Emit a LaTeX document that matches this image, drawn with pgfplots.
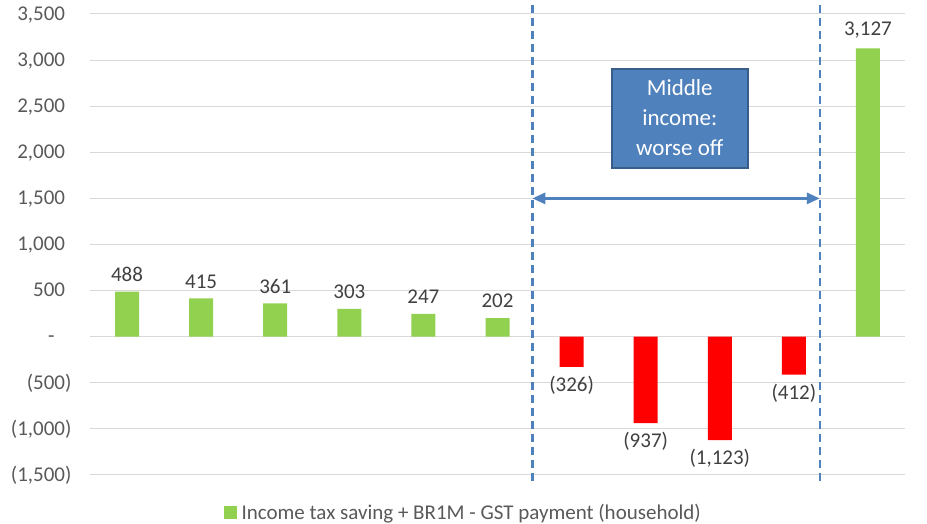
\documentclass[border=0pt]{standalone}
\usepackage{pgfplots}
\pgfplotsset{compat=1.18}
\usepackage{pgfplotstable}
\usepackage{fontspec}
\setmainfont{Carlito}
\usetikzlibrary{arrows.meta}
\definecolor{barGreen}{HTML}{92D050}
\definecolor{barRed}{HTML}{FF0000}
\definecolor{boxBlue}{HTML}{4F81BD}
\definecolor{boxEdge}{HTML}{385D8A}
\definecolor{tickGray}{HTML}{595959}
\definecolor{labGray}{HTML}{404040}
\definecolor{gridGray}{HTML}{D9D9D9}

\pgfplotstableread{
x y label
0 488 488
1 415 415
2 361 361
3 303 303
4 247 247
5 202 202
10 3127 3,127
}\greendata
\pgfplotstableread{
x y label
6 -326 (326)
7 -937 (937)
8 -1123 (1,123)
9 -412 (412)
}\reddata

\begin{document}
\begin{tikzpicture}
\useasboundingbox (-90pt,-49pt) rectangle (837pt,475pt);
\begin{axis}[
  scale only axis, width=815pt, height=461pt,
  xmin=-0.5, xmax=10.5, ymin=-1500, ymax=3500,
  xtick=\empty,
  ytick={-1500,-1000,-500,0,500,1000,1500,2000,2500,3000,3500},
  yticklabels={{(1,500)},{(1,000)},{(500)},{-\phantom{0)}},{500\phantom{)}},{1,000\phantom{)}},{1,500\phantom{)}},{2,000\phantom{)}},{2,500\phantom{)}},{3,000\phantom{)}},{3,500\phantom{)}}},
  ymajorgrids, grid style={gridGray, line width=1pt},
  major tick length=0pt,
  axis line style={draw=none},
  tick label style={font=\fontsize{21}{25}\selectfont, text=tickGray},
  yticklabel style={xshift=-15pt},
  ybar, bar width=24pt,
  clip=false,
  point meta=explicit symbolic,
  nodes near coords,
  every node near coord/.append style={font=\fontsize{21}{25}\selectfont, text=labGray},
  legend style={draw=none, fill=none, at={(axis description cs:0.458,-0.082)}, anchor=center,
    font=\fontsize{21}{25}\selectfont, text=tickGray},
]
\addplot[bar shift=0pt, draw=none, fill=barGreen,
  every node near coord/.append style={inner ysep=10pt},
  legend image code/.code={\fill[barGreen] (0pt,-6.5pt) rectangle (13pt,6.5pt); \path (16pt,0pt);}]
  table[x=x, y=y, meta=label] {\greendata};
\addlegendentry{Income tax saving + BR1M - GST payment (household)}
\addplot[bar shift=0pt, draw=none, fill=barRed, forget plot,
  nodes near coords align={below},
  every node near coord/.append style={anchor=north, inner ysep=9pt}]
  table[x=x, y=y, meta=label] {\reddata};
\draw[boxBlue, line width=2.5pt, dash pattern=on 8pt off 5pt] (axis cs:5.47,3600) -- (axis cs:5.47,-1600);
\draw[boxBlue, line width=2.5pt, dash pattern=on 8pt off 5pt] (axis cs:9.35,3600) -- (axis cs:9.35,-1600);
\draw[boxBlue, line width=3pt, {Triangle[length=13pt,width=11pt]}-{Triangle[length=13pt,width=11pt]}] (axis cs:5.47,1500) -- (axis cs:9.35,1500);
\draw[boxEdge, line width=2pt, fill=boxBlue] (axis cs:6.54,2904) rectangle (axis cs:8.38,1830);
\node[text=white, align=center, font=\fontsize{23}{30}\selectfont] at (axis cs:7.46,2372) {Middle\\income:\\worse off};
\end{axis}
\end{tikzpicture}
\end{document}
